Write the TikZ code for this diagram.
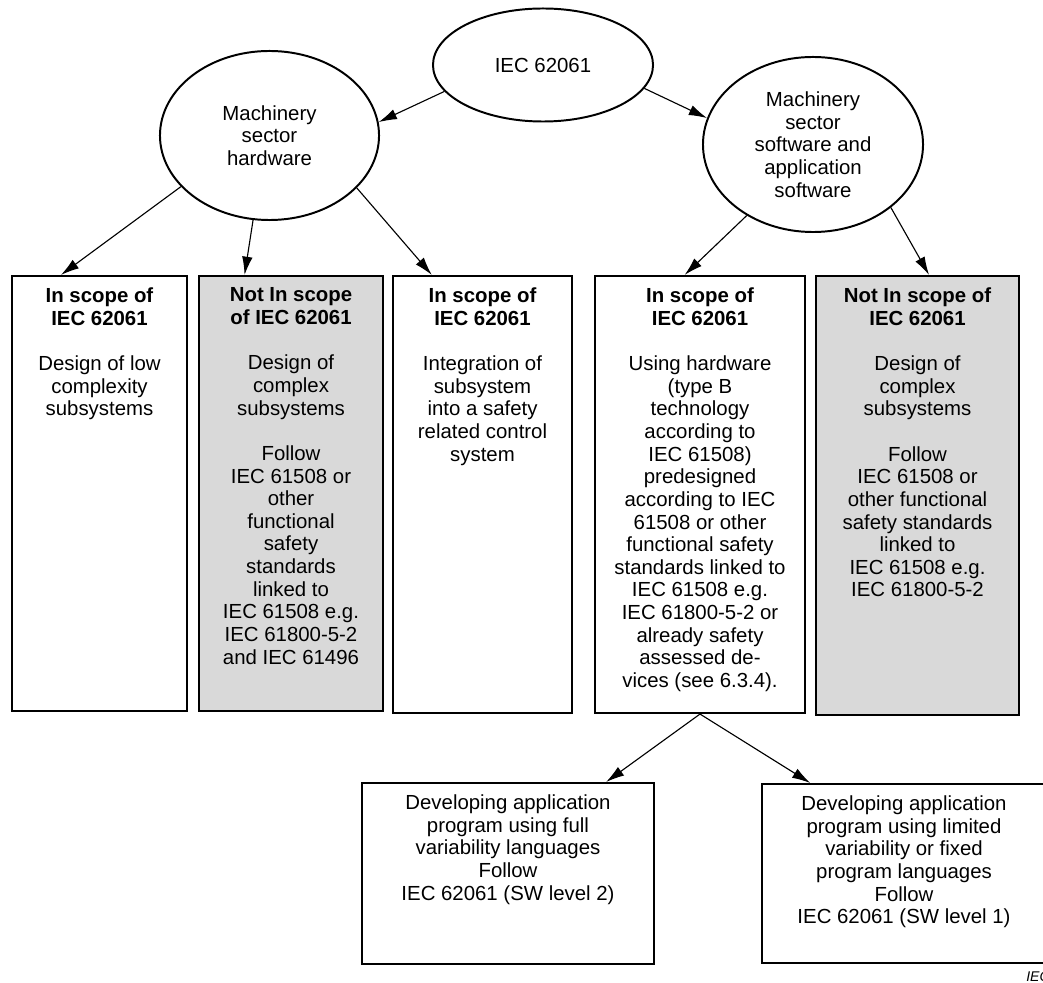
\documentclass[tikz,border=0pt]{standalone}
\usepackage{fontspec}
\setmainfont{Liberation Sans}
\usetikzlibrary{shapes.geometric}
\usetikzlibrary{arrows.meta}
\definecolor{notscopegray}{RGB}{217,217,217}
\tikzset{
	every node/.style={font=\fontsize{14.5}{16.1}\selectfont},
	topic/.style={ellipse, draw, line width=1.4pt, align=center, inner sep=0pt},
	inscope/.style={rectangle, draw, line width=1.4pt, inner sep=0pt},
	outscope/.style={inscope, fill=notscopegray},
	boxtext/.style={anchor=north, align=center, inner sep=0pt, yshift=-9pt},
	arrow/.style={draw, -{Latex[length=13pt, width=7.5pt]}, line width=0.8pt}
}

\begin{document}
\begin{tikzpicture}[x=0.025cm, y=-0.025cm]

\useasboundingbox (0,0) rectangle (1043,983);

\node[topic, minimum width=5.5cm, minimum height=2.825cm] (iec) at (543,65)
	{IEC 62061};

\node[topic, minimum width=5.475cm, minimum height=4.225cm] (hwsector) at (269.5,135.5)
	{Machinery\\sector\\hardware};

\node[topic, minimum width=5.5cm, minimum height=4.375cm] (swsector) at (813,144.5)
	{Machinery\\sector\\software and\\application\\software};

\node[inscope, minimum width=4.375cm, minimum height=10.875cm,
	label={[boxtext]north:{\textbf{In scope of}\\\textbf{IEC 62061}\\[16.1pt]
	Design of low\\complexity\\subsystems}}] (hwlow) at (99.5,493.5) {};

\node[outscope, minimum width=4.6cm, minimum height=10.875cm,
	label={[boxtext]north:{\textbf{Not In scope}\\\textbf{of IEC 62061}\\[16.1pt]
	Design of\\complex\\subsystems\\[16.1pt]
	Follow\\IEC 61508 or\\other\\functional\\safety\\standards\\linked to\\
	IEC 61508 e.g.\\IEC 61800-5-2\\and IEC 61496}}] (hwcomplex) at (291,493.5) {};

\node[inscope, minimum width=4.475cm, minimum height=10.925cm,
	label={[boxtext]north:{\textbf{In scope of}\\\textbf{IEC 62061}\\[16.1pt]
	Integration of\\subsystem\\into a safety\\related control\\system}}] (hwintegr) at (482.5,494.5) {};

\node[inscope, minimum width=5.25cm, minimum height=10.925cm,
	label={[boxtext]north:{\textbf{In scope of}\\\textbf{IEC 62061}\\[16.1pt]
	Using hardware\\(type B\\technology\\according to\\IEC 61508)\\predesigned\\
	according to IEC\\61508 or other\\functional safety\\standards linked to\\
	IEC 61508 e.g.\\IEC 61800-5-2 or\\already safety\\assessed de-\\vices (see 6.3.4).}}] (swhw) at (700,494.5) {};

\node[outscope, minimum width=5.075cm, minimum height=10.975cm,
	label={[boxtext]north:{\textbf{Not In scope of}\\\textbf{IEC 62061}\\[16.1pt]
	Design of\\complex\\subsystems\\[16.1pt]
	Follow\\IEC 61508 or\\other functional\\safety standards\\linked to\\
	IEC 61508 e.g.\\IEC 61800-5-2}}] (swcomplex) at (917.5,495.5) {};

\node[inscope, minimum width=7.3cm, minimum height=4.525cm,
	label={[boxtext]north:{Developing application\\program using full\\
	variability languages\\Follow\\IEC 62061 (SW level 2)}}] (fullvar) at (508,873.5) {};

\node[inscope, minimum width=7.1cm, minimum height=4.475cm,
	label={[boxtext]north:{Developing application\\program using limited\\
	variability or fixed\\program languages\\Follow\\IEC 62061 (SW level 1)}}] (limvar) at (904,873.5) {};

\node[font=\fontsize{10}{12}\selectfont\itshape, anchor=base west, inner sep=0pt]
	(ieclabel) at (1026,981) {IEC};


\draw [arrow] (iec.195) -- (hwsector.7);
\draw [arrow] (iec.347) -- (swsector.166);

\draw [arrow] (hwsector.210) -- (hwlow.100);
\draw [arrow] (hwsector.259) -- (hwcomplex.102);
\draw [arrow] (hwsector.329) -- (hwintegr.103);

\draw [arrow] (swsector.227) -- (swhw.94);
\draw [arrow] (swsector.321) -- (swcomplex.87);

\draw [arrow] (swhw.south) -- (fullvar.43);
\draw [arrow] (swhw.south) -- (limvar.136);

\end{tikzpicture}
\end{document}
